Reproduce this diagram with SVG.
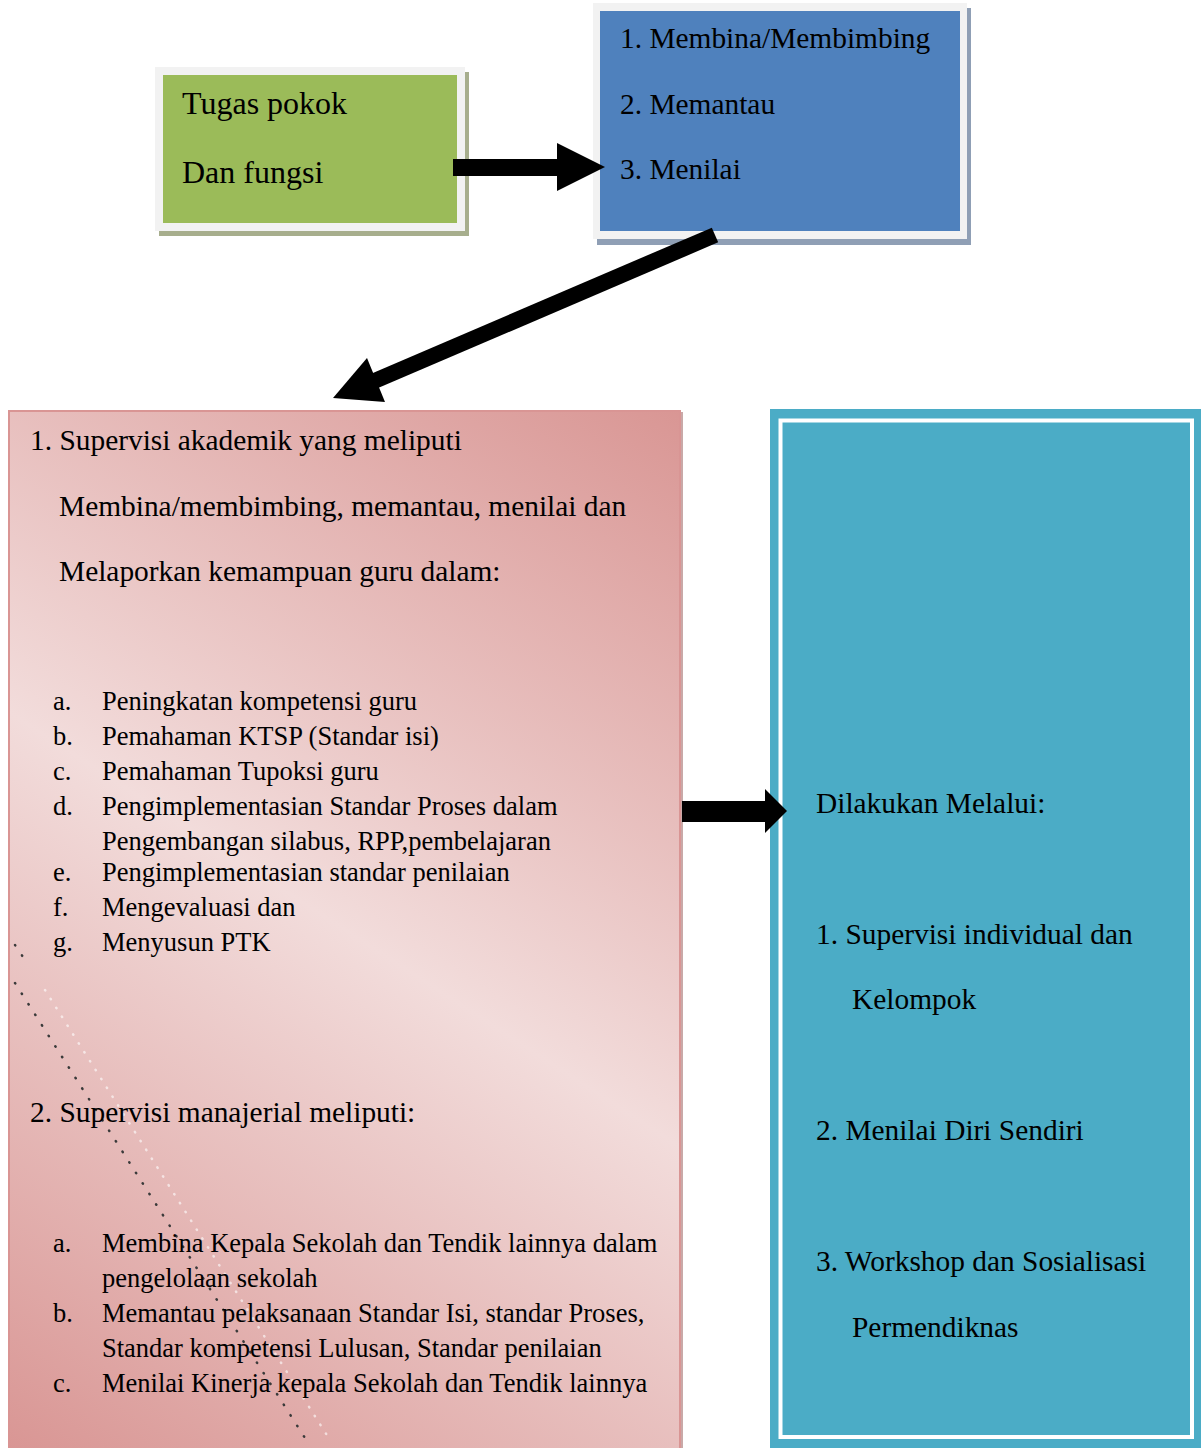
<svg xmlns="http://www.w3.org/2000/svg" width="1201" height="1448" viewBox="0 0 1201 1448">
<defs>
<style>
text{font-family:"Liberation Serif","Times New Roman",serif;fill:#000}
.big{font-size:29.4px}
.sm{font-size:26.5px}
.frame{fill:#f2f2f2}
</style>
<linearGradient id="pinkGrad" gradientUnits="userSpaceOnUse" x1="680" y1="410" x2="8" y2="1448">
<stop offset="0" stop-color="#d99694"/>
<stop offset="0.5" stop-color="#f2dcdb"/>
<stop offset="1" stop-color="#d99694"/>
</linearGradient>
</defs>
<rect width="1201" height="1448" fill="#fff"/>

<g id="node-tugas">
<rect x="159" y="72" width="310" height="164" fill="#a7ae8d"/>
<rect x="155" y="67" width="310" height="164" class="frame"/>
<rect x="163" y="75" width="294" height="148" fill="#9bbb59"/>
<text x="182" y="114" style="font-size:32px">Tugas pokok</text>
<text x="182" y="183" style="font-size:32px">Dan fungsi</text>
</g>

<g id="node-fungsi">
<rect x="597" y="8" width="374" height="237" fill="#8f9fb5"/>
<rect x="593" y="3" width="374" height="236" class="frame"/>
<rect x="600" y="11" width="360" height="220" fill="#4f81bd"/>
<text class="big" x="620" y="48">1. Membina/Membimbing</text>
<text class="big" x="620" y="114">2. Memantau</text>
<text class="big" x="620" y="179">3. Menilai</text>
</g>

<g id="node-supervisi">
<rect x="680" y="412" width="3" height="1036" fill="#c9a9a8"/>
<rect x="9" y="411" width="671" height="1040" fill="url(#pinkGrad)" stroke="#d99594" stroke-width="2"/>
<g fill="none" stroke-linecap="round">
<line x1="15" y1="983" x2="305" y2="1438" stroke="#3a3a3a" stroke-width="2.5" stroke-dasharray="0.5 12"/>
<line x1="45" y1="990" x2="330" y2="1440" stroke="#ffffff" stroke-width="2.5" stroke-dasharray="0.5 10" opacity="0.6"/>
<line x1="15" y1="945" x2="25" y2="960" stroke="#3a3a3a" stroke-width="2.5" stroke-dasharray="0.5 12"/>
</g>
<text class="big" x="30" y="450">1. Supervisi akademik yang meliputi</text>
<text class="big" x="59" y="516">Membina/membimbing, memantau, menilai dan</text>
<text class="big" x="59" y="581">Melaporkan kemampuan guru dalam:</text>
<text class="sm" x="53" y="710">a.</text><text class="sm" x="102" y="710">Peningkatan kompetensi guru</text>
<text class="sm" x="53" y="745">b.</text><text class="sm" x="102" y="745">Pemahaman KTSP (Standar isi)</text>
<text class="sm" x="53" y="780">c.</text><text class="sm" x="102" y="780">Pemahaman Tupoksi guru</text>
<text class="sm" x="53" y="815">d.</text><text class="sm" x="102" y="815">Pengimplementasian Standar Proses dalam</text>
<text class="sm" x="102" y="850">Pengembangan silabus, RPP,pembelajaran</text>
<text class="sm" x="53" y="881">e.</text><text class="sm" x="102" y="881">Pengimplementasian standar penilaian</text>
<text class="sm" x="53" y="916">f.</text><text class="sm" x="102" y="916">Mengevaluasi dan</text>
<text class="sm" x="53" y="951">g.</text><text class="sm" x="102" y="951">Menyusun PTK</text>
<text class="big" x="30" y="1122">2. Supervisi manajerial meliputi:</text>
<text class="sm" x="53" y="1252">a.</text><text class="sm" x="102" y="1252">Membina Kepala Sekolah dan Tendik lainnya dalam</text>
<text class="sm" x="102" y="1287">pengelolaan sekolah</text>
<text class="sm" x="53" y="1322">b.</text><text class="sm" x="102" y="1322">Memantau pelaksanaan Standar Isi, standar Proses,</text>
<text class="sm" x="102" y="1357">Standar kompetensi Lulusan, Standar penilaian</text>
<text class="sm" x="53" y="1392">c.</text><text class="sm" x="102" y="1392">Menilai Kinerja kepala Sekolah dan Tendik lainnya</text>
</g>

<g id="node-melalui">
<rect x="770" y="409" width="431" height="1039" fill="#4bacc6"/>
<rect x="780.5" y="420.5" width="411.5" height="1016.5" fill="none" stroke="#ffffff" stroke-width="4"/>
<text class="big" x="816" y="813">Dilakukan Melalui:</text>
<text class="big" x="816" y="944">1. Supervisi individual dan</text>
<text class="big" x="852" y="1009">Kelompok</text>
<text class="big" x="816" y="1140">2. Menilai Diri Sendiri</text>
<text class="big" x="816" y="1271">3. Workshop dan Sosialisasi</text>
<text class="big" x="852" y="1337">Permendiknas</text>
</g>

<g id="connectors" fill="#000">
<polygon points="453,159 557,159 557,143 605,167 557,191 557,176 453,176"/>
<line x1="715" y1="235" x2="372" y2="382" stroke="#000" stroke-width="16"/>
<polygon points="333,398 367,358 385,402"/>
<polygon points="682,801 765,801 765,789 787,811 765,833 765,822 682,822"/>
</g>
</svg>
